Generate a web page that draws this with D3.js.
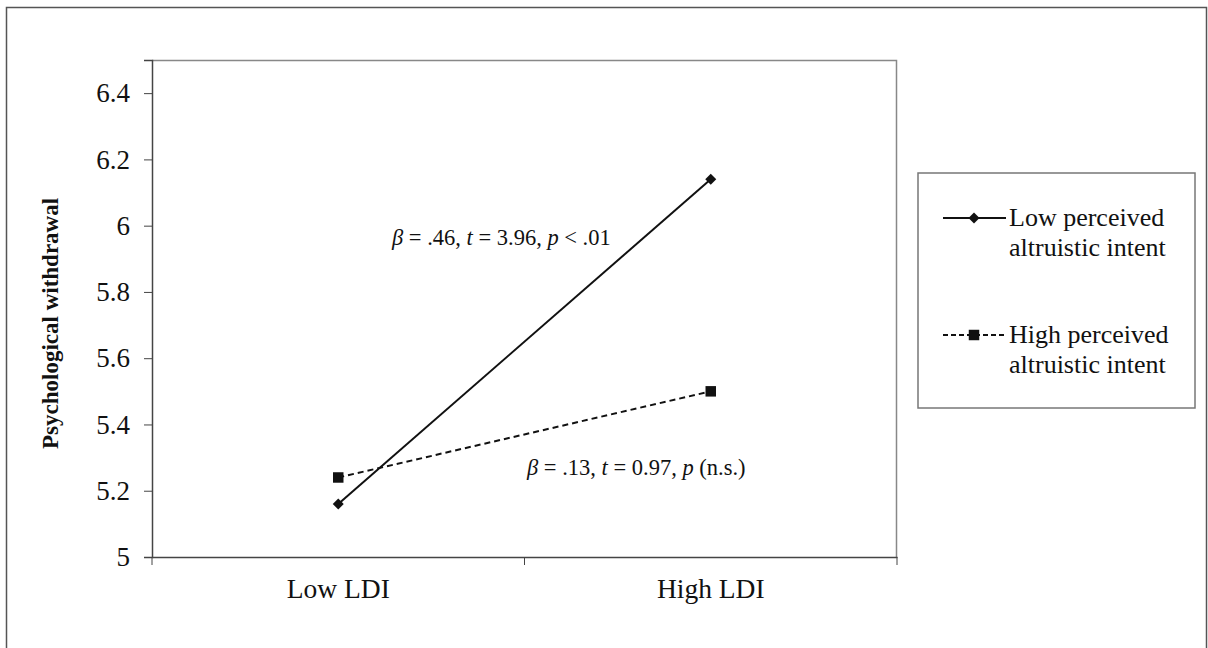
<!DOCTYPE html>
<meta charset="utf-8">
<style>
body { margin: 0; background: #fff; }
svg { font-family: "Liberation Serif", "Times New Roman", serif; }
.tick text { font-size: 27px; fill: #111; }
.xa .tick text { font-size: 27.5px; }
.note { font-size: 22.5px; fill: #111; }
.legend text { font-size: 26px; fill: #111; }
</style>
<svg width="1208" height="648"></svg>
<script src="https://d3js.org/d3.v7.min.js"></script>
<script>

var categories = ["Low LDI", "High LDI"];
var seriesNames = ["Low perceived altruistic intent", "High perceived altruistic intent"];
var lowIntent = [5.16, 6.14];
var highIntent = [5.24, 5.50];
var yTicks = [5, 5.2, 5.4, 5.6, 5.8, 6, 6.2, 6.4];

var svg = d3.select("svg"),
    margin = {left: 152, top: 60, right: 311, bottom: 91},
    width = 1208 - margin.left - margin.right,
    height = 648 - margin.top - margin.bottom;

// outer frame
svg.append("rect")
    .attr("x", 6.5).attr("y", 7.5)
    .attr("width", 1200).attr("height", 660)
    .attr("fill", "none").attr("stroke", "#555").attr("stroke-width", 1.5);

var g = svg.append("g").attr("transform", "translate(" + margin.left + "," + margin.top + ")");

var x = d3.scaleBand().domain(categories).range([0, width]);
var y = d3.scaleLinear().domain([5, 6.5]).range([height, 0]);

// plot area border (top/right)
g.append("path")
    .attr("d", "M0,0.5H" + (width - 0.5) + "V" + height)
    .attr("fill", "none").attr("stroke", "#888").attr("stroke-width", 1.5);

var yAxis = g.append("g")
    .call(d3.axisLeft(y).tickValues(yTicks).tickSize(8).tickPadding(14)
      .tickFormat(function(d) { return d3.format("")(+d.toFixed(1)); }))
    .attr("font-family", null).attr("font-size", null);
yAxis.select(".domain").attr("stroke", "#444").attr("stroke-width", 1.5);
yAxis.selectAll(".tick line").attr("stroke", "#444");

var xAxis = g.append("g")
    .attr("class", "xa")
    .attr("transform", "translate(0," + height + ")")
    .call(d3.axisBottom(x).tickSize(0).tickPadding(21))
    .attr("font-family", null).attr("font-size", null);
xAxis.select(".domain").attr("stroke", "#444").attr("stroke-width", 1.5);

// x ticks at band edges
var edges = [0].concat(categories.map(function(c) { return x(c) + x.bandwidth(); }));
xAxis.selectAll(".edge")
  .data(edges)
  .enter().append("line")
    .attr("x1", function(d) { return d; }).attr("x2", function(d) { return d; })
    .attr("y1", 0).attr("y2", 8)
    .attr("stroke", "#444");

var cx = function(i) { return x(categories[i]) + x.bandwidth() / 2; };

var line = d3.line()
    .x(function(d, i) { return cx(i); })
    .y(function(d) { return y(d); });

g.append("path").datum(lowIntent)
    .attr("d", line).attr("fill", "none").attr("stroke", "#111").attr("stroke-width", 2);
g.append("path").datum(highIntent)
    .attr("d", line).attr("fill", "none").attr("stroke", "#111").attr("stroke-width", 2)
    .attr("stroke-dasharray", "6,4");

// diamond = square turned 45 degrees
var diamond = d3.symbol().type(d3.symbolSquare).size(60);
var square = d3.symbol().type(d3.symbolSquare).size(110);

g.selectAll(".dlow").data(lowIntent).enter().append("path")
    .attr("d", diamond)
    .attr("transform", function(d, i) { return "translate(" + cx(i) + "," + y(d) + ") rotate(45)"; })
    .attr("fill", "#111");
g.selectAll(".dhigh").data(highIntent).enter().append("path")
    .attr("d", square)
    .attr("transform", function(d, i) { return "translate(" + cx(i) + "," + y(d) + ")"; })
    .attr("fill", "#111");

// annotations
function note(px, py, parts) {
  var t = g.append("text").attr("class", "note").attr("x", px).attr("y", py);
  parts.forEach(function(p) {
    t.append("tspan").attr("font-style", p[1] ? "italic" : "normal").text(p[0]);
  });
}
note(240, 185, [["\u03B2", 1], [" = .46, ", 0], ["t", 1], [" = 3.96, ", 0], ["p", 1], [" < .01", 0]]);
note(375, 415, [["\u03B2", 1], [" = .13, ", 0], ["t", 1], [" = 0.97, ", 0], ["p", 1], [" (n.s.)", 0]]);

// y title
svg.append("text")
    .attr("transform", "translate(58," + (margin.top + height * 0.53) + ") rotate(-90)")
    .attr("text-anchor", "middle")
    .attr("font-size", 23).attr("font-weight", "bold").attr("fill", "#111")
    .text("Psychological withdrawal");

// legend
var legend = svg.append("g").attr("class", "legend").attr("transform", "translate(918,173)");
legend.append("rect")
    .attr("width", 277).attr("height", 235)
    .attr("fill", "#fff").attr("stroke", "#777").attr("stroke-width", 1.5);

var items = legend.selectAll(".item")
  .data(seriesNames)
  .enter().append("g")
    .attr("transform", function(d, i) { return "translate(0," + (45 + i * 117) + ")"; });

items.append("line")
    .attr("x1", 25).attr("x2", 88).attr("y1", 0).attr("y2", 0)
    .attr("stroke", "#111").attr("stroke-width", 2)
    .attr("stroke-dasharray", function(d, i) { return i ? "5,3" : null; });
items.append("path")
    .attr("d", function(d, i) { return i ? square() : diamond(); })
    .attr("transform", function(d, i) { return "translate(56,0)" + (i ? "" : " rotate(45)"); })
    .attr("fill", "#111");

items.each(function(d) {
  var words = d.split(" ");
  var t = d3.select(this).append("text").attr("x", 91);
  t.append("tspan").attr("x", 91).attr("y", 8).text(words.slice(0, 2).join(" "));
  t.append("tspan").attr("x", 91).attr("y", 38).text(words.slice(2).join(" "));
});

</script>
